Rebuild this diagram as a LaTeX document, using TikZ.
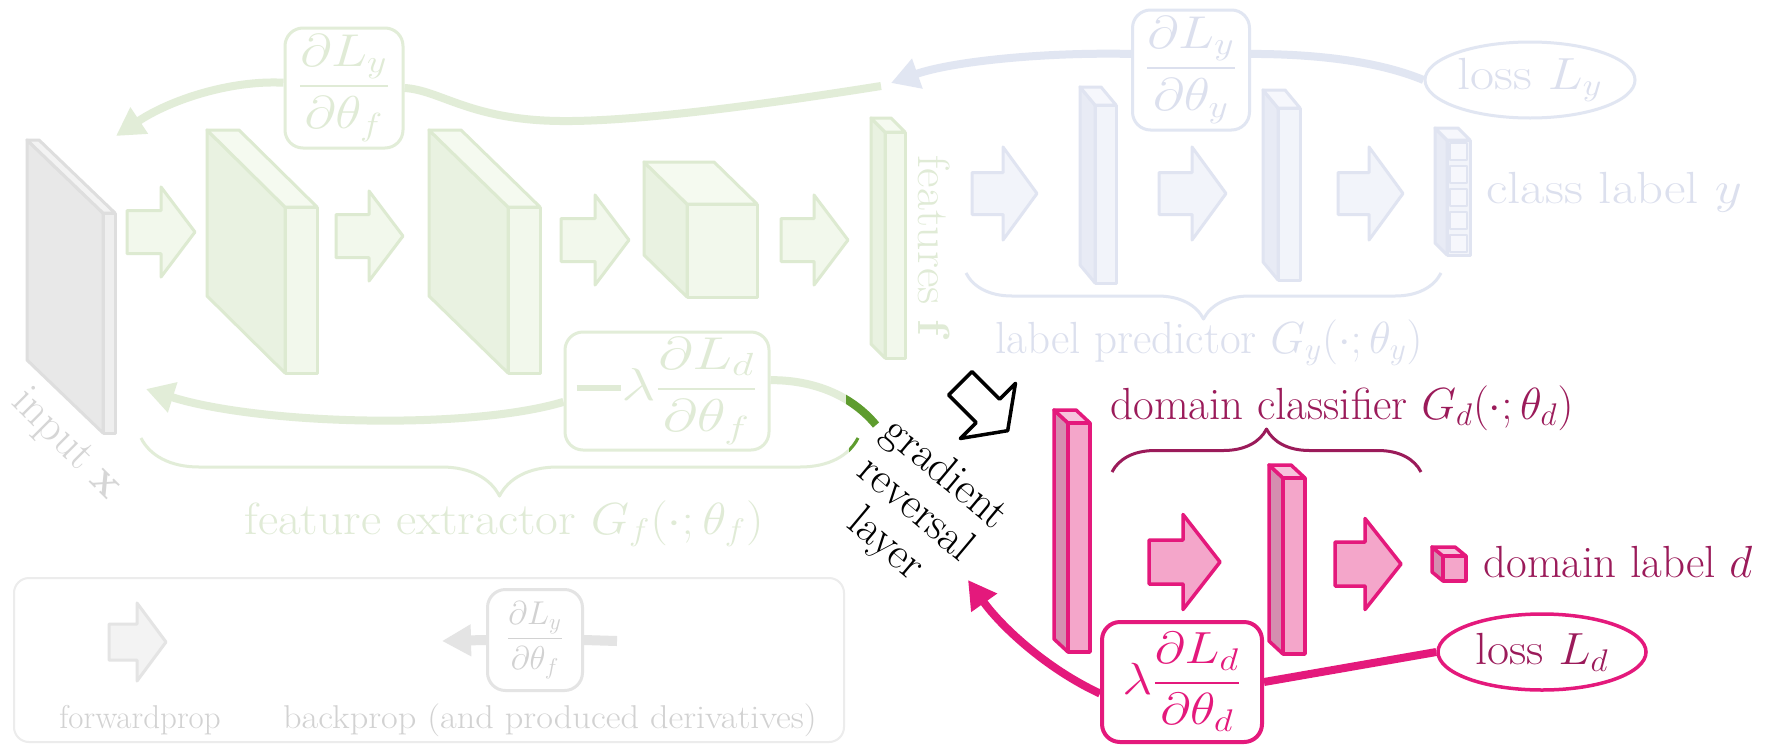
\documentclass[tikz,border=0pt]{standalone}
\usepackage{amsmath}
\usepackage{graphicx}
\usetikzlibrary{arrows.meta,decorations.pathreplacing,shapes.geometric}

% faded green (feature extractor)
\definecolor{gLine}{HTML}{E2EDD8}
\definecolor{gDraw}{HTML}{DDEAD1}
\definecolor{gFront}{HTML}{F2F8EC}
\definecolor{gSide}{HTML}{E9F2E1}
\definecolor{gTop}{HTML}{F5FAF0}
\definecolor{gText}{HTML}{E0EBD6}
\definecolor{gDark}{HTML}{5E9C2E}
% faded blue (label predictor)
\definecolor{bLine}{HTML}{E1E6F2}
\definecolor{bDraw}{HTML}{E0E4F1}
\definecolor{bFront}{HTML}{F2F4FA}
\definecolor{bSide}{HTML}{E8EBF5}
\definecolor{bTop}{HTML}{F6F7FC}
\definecolor{bText}{HTML}{DCE0EE}
% grey input and legend
\definecolor{kDraw}{HTML}{DEDEDE}
\definecolor{kFront}{HTML}{EFEFEF}
\definecolor{kSide}{HTML}{E8E8E8}
\definecolor{kTop}{HTML}{F3F3F3}
\definecolor{kText}{HTML}{D6D6D6}
\definecolor{lBorder}{HTML}{ECECEC}
\definecolor{lDraw}{HTML}{E4E4E4}
\definecolor{lFill}{HTML}{F3F3F3}
\definecolor{lText}{HTML}{D2D2D2}
% domain classifier
\definecolor{mag}{HTML}{E4197C}
\definecolor{pFront}{HTML}{F4A6CA}
\definecolor{pSide}{HTML}{D58DB0}
\definecolor{pTop}{HTML}{F7C3DC}
\definecolor{magText}{HTML}{9B1B5A}

\DeclareMathSizes{24.88}{24.88}{17.28}{12}
\DeclareMathSizes{20.74}{20.74}{14.4}{10}
\newcommand\bigtxt{\fontsize{24.88}{25.43}\selectfont}
\newcommand\legtxt{\fontsize{20.74}{22}\selectfont}
\newcommand\upleg[1]{\scalebox{1.591}{#1}}

% slab: palette, front face x1 y1 x2 y2, depth dx dy
\newcommand\slabshape[7]{%
  \filldraw[#1side] (#2,#3) -- ({#2+#6},{#3+#7}) -- ({#2+#6},{#5+#7}) -- (#2,#5) -- cycle;
  \filldraw[#1top] (#2,#3) -- ({#2+#6},{#3+#7}) -- ({#4+#6},{#3+#7}) -- (#4,#3) -- cycle;
  \filldraw[#1front] (#2,#3) rectangle (#4,#5);}

% block arrow: style, x tail, x tip, y centre, head width, shaft width, head length
\newcommand\blockarrow[7]{%
  \filldraw[#1] (#2,{#4-#6/2}) -- ({#3-#7},{#4-#6/2}) -- ({#3-#7},{#4-#5/2}) -- (#3,#4)
    -- ({#3-#7},{#4+#5/2}) -- ({#3-#7},{#4+#6/2}) -- (#2,{#4+#6/2}) -- cycle;}

\tikzset{
  gside/.style={fill=gSide,draw=gDraw,line width=3pt},
  gtop/.style={fill=gTop,draw=gDraw,line width=3pt},
  gfront/.style={fill=gFront,draw=gDraw,line width=3pt},
  bside/.style={fill=bSide,draw=bDraw,line width=3pt},
  btop/.style={fill=bTop,draw=bDraw,line width=3pt},
  bfront/.style={fill=bFront,draw=bDraw,line width=3pt},
  kside/.style={fill=kSide,draw=kDraw,line width=3pt},
  ktop/.style={fill=kTop,draw=kDraw,line width=3pt},
  kfront/.style={fill=kFront,draw=kDraw,line width=3pt},
  pside/.style={fill=pSide,draw=mag,line width=3.5pt},
  ptop/.style={fill=pTop,draw=mag,line width=3.5pt},
  pfront/.style={fill=pFront,draw=mag,line width=3.5pt},
  garrow/.style={fill=gFront,draw=gDraw,line width=3pt},
  barrow/.style={fill=bFront,draw=bDraw,line width=3pt},
  parrow/.style={fill=pFront,draw=mag,line width=3.5pt},
  larrow/.style={fill=lFill,draw=lDraw,line width=3pt},
  tx/.style={scale=1.8087,inner sep=0pt},
  txleg/.style={scale=1.591,inner sep=0pt,font=\legtxt},
  dbox/.style={draw,rounded corners=18pt,line width=3pt,inner sep=2pt},
  tipbig/.style={-{Triangle[length=28pt,width=30pt]}},
  gcurve/.style={draw=gLine,line width=8pt},
  bcurve/.style={draw=bLine,line width=8pt},
  mcurve/.style={draw=mag,line width=8pt},
  lcurve/.style={draw=lDraw,line width=10pt},
}

\begin{document}
\begin{tikzpicture}[x=1pt,y=-1pt,line join=round,every node/.style={font=\bigtxt}]
\useasboundingbox (0,0) rectangle (1777,745);
\fill[white] (0,0) rectangle (1777,745);

% ---------- feature extractor ----------
\slabshape{k}{103}{213}{115}{433}{-76}{-73}
\blockarrow{garrow}{127}{195}{232}{90}{43}{34}
\slabshape{g}{285}{207}{317}{373}{-78}{-77}
\blockarrow{garrow}{336}{403}{236}{90}{43}{34}
\slabshape{g}{508}{207}{540}{373}{-79}{-77}
\blockarrow{garrow}{561}{629}{240}{90}{43}{34}
\slabshape{g}{687}{204}{757}{297}{-43}{-42}
\blockarrow{garrow}{781}{848}{240}{90}{43}{34}
\slabshape{g}{885}{132}{905}{358}{-14}{-14}

\node[tx,rotate=-45,text=kText] (inlbl) at (66,445) {input $\mathbf{x}$};
\node[tx,rotate=-90,xscale=1.06,text=gText] (featlbl) at (934,248) {features $\mathbf{f}$};

% ---------- label predictor ----------
\blockarrow{barrow}{972}{1037}{193.5}{93}{42}{34}
\slabshape{b}{1095}{105}{1116}{283}{-15}{-18}
\blockarrow{barrow}{1159}{1226}{193.5}{93}{42}{34}
\slabshape{b}{1278}{108}{1300}{280}{-15}{-18}
\blockarrow{barrow}{1338}{1403}{193.5}{93}{42}{34}
\slabshape{b}{1447}{140}{1470}{255}{-12}{-12}
\foreach \k in {0,...,4}
  \filldraw[fill=bTop,draw=bDraw,line width=1.5pt] (1450,{143+23*\k}) rectangle (1467,{160+23*\k});
\node[tx,xscale=1.17,anchor=base west,text=bText] (classlbl) at (1486,203) {class label $y$};

% ---------- domain classifier ----------
\slabshape{p}{1068}{423}{1090}{652}{-14}{-13}
\blockarrow{parrow}{1149}{1220}{562}{95}{44}{37}
\slabshape{p}{1283}{478}{1305}{654}{-14}{-13}
\blockarrow{parrow}{1335}{1401}{564}{91}{44}{36}
\slabshape{p}{1443}{556}{1466}{581}{-11}{-9}
\node[tx,anchor=base west,text=magText] (domlbl) at (1483,577) {domain label $d$};

% ---------- braces ----------
\draw[draw=gLine,line width=3pt,decorate,decoration={brace,amplitude=58pt}]
  (858,438) -- (141,438);
\begin{scope}
  \clip (849,425) rectangle (870,475);
  \draw[draw=gDark,line width=3pt,decorate,decoration={brace,amplitude=58pt}]
    (858,438) -- (141,438);
\end{scope}
\node[tx,xscale=1.1,anchor=base,text=gText] (fextlbl) at (504,534) {feature extractor $G_f(\cdot;\theta_f)$};

\draw[draw=bLine,line width=3pt,decorate,decoration={brace,amplitude=46pt}]
  (1441,273) -- (966,273);
\node[tx,anchor=base,text=bText] (lpredlbl) at (1209,353) {label predictor $G_y(\cdot;\theta_y)$};

\draw[draw=magText,line width=3pt,decorate,decoration={brace,amplitude=43pt}]
  (1112,472) -- (1421,472);
\node[tx,anchor=base,text=magText] (dclslbl) at (1342,419) {domain classifier $G_d(\cdot;\theta_d)$};

% ---------- loss and derivative nodes ----------
\node[ellipse,draw=bLine,line width=3pt,text=bText,minimum width=210pt,minimum height=76pt,inner sep=0pt]
  (lossy) at (1530,80) {\scalebox{2.1}[1.81]{loss $L_y$}};
\node[dbox,draw=bLine,text=bText,minimum width=117pt,minimum height=120pt]
  (dyy) at (1191,70) {\scalebox{2.17}[1.85]{$\dfrac{\partial L_y}{\partial\theta_y}$}};
\node[dbox,draw=gLine,text=gText,minimum width=118pt,minimum height=120pt]
  (dyf) at (344,88) {\scalebox{2.17}[1.85]{$\dfrac{\partial L_y}{\partial\theta_f}$}};
\node[dbox,draw=gLine,text=gText,minimum width=204pt,minimum height=118pt]
  (dlf) at (667,391) {\scalebox{2.4}[1.85]{$\rule[0.2em]{0.75em}{0.13em}\lambda\dfrac{\partial L_d}{\partial\theta_f}$}};
\node[ellipse,draw=mag,line width=3.5pt,text=magText,minimum width=208pt,minimum height=76pt,inner sep=0pt]
  (lossd) at (1542,652) {\scalebox{1.93}[1.81]{loss $L_d$}};
\node[dbox,draw=mag,line width=4pt,text=mag,minimum width=160pt,minimum height=120pt]
  (dld) at (1182,682) {\scalebox{2.1}[1.81]{$\lambda\dfrac{\partial L_d}{\partial\theta_d}$}};

% free ends of the gradient paths
\coordinate (btip) at (891,83);
\coordinate (gstart) at (881,86);
\coordinate (gtip) at (116,136);
\coordinate (grlin) at (876,425);
\coordinate (g2tip) at (146,389);
\coordinate (mtip) at (968,580);

% ---------- backward paths ----------
\draw[bcurve] (lossy.west) .. controls (1380,62) and (1320,54) .. (dyy.15);
\draw[bcurve,tipbig] (dyy.165) .. controls (1040,52) and (950,62) .. (btip);

\draw[gcurve] (gstart) .. controls (780,102) and (640,122) .. (560,121)
  .. controls (470,120) and (440,90) .. (dyf.east);
\draw[gcurve,tipbig] (dyf.175) .. controls (230,80) and (170,100) .. (gtip);

\draw[gcurve] (grlin) .. controls (852,396) and (815,380) .. (dlf.6);
\begin{scope}
  \clip (846,380) rectangle (900,440);
  \draw[draw=gDark,line width=8pt] (grlin) .. controls (852,396) and (815,380) .. (dlf.6);
\end{scope}
\draw[gcurve,tipbig] (dlf.186) .. controls (470,430) and (260,425) .. (g2tip);

\draw[mcurve] (lossd.west) -- (dld.east);
\draw[mcurve,tipbig] (dld.188) .. controls (1045,668) and (1000,625) .. (mtip);

% ---------- gradient reversal layer ----------
\begin{scope}[shift={(984,407)},rotate=-45]
  \filldraw[fill=white,draw=black,line width=3.5pt]
    (-33.5,-16.5) -- (5.5,-16.5) -- (5.5,-39) -- (33.5,0) -- (5.5,39) -- (5.5,16.5) -- (-33.5,16.5) -- cycle;
\end{scope}
\node[tx,rotate=-40,align=center] (grl) at (915,510) {gradient\\reversal\\layer};

% ---------- legend ----------
\draw[draw=lBorder,line width=2pt,rounded corners=15pt] (14,578) rectangle (844,742);
\blockarrow{larrow}{109}{166}{642}{78}{36}{29}
\node[txleg,anchor=base,text=lText] (fwdlbl) at (140,728) {forwardprop};
\node[dbox,draw=lDraw,text=lText,font=\legtxt,minimum width=95pt,minimum height=101pt]
  (legd) at (535,640) {\upleg{$\dfrac{\partial L_y}{\partial\theta_f}$}};
\coordinate (legR) at (617,641);
\coordinate (legtip) at (442,641);
\draw[lcurve] (legR) -- (legd.east);
\draw[lcurve,-{Triangle[length=29pt,width=30pt]}] (legd.west) -- (legtip);
\node[txleg,xscale=1.1,anchor=base,text=lText] (bwdlbl) at (550,728) {backprop (and produced derivatives)};
\end{tikzpicture}
\end{document}
